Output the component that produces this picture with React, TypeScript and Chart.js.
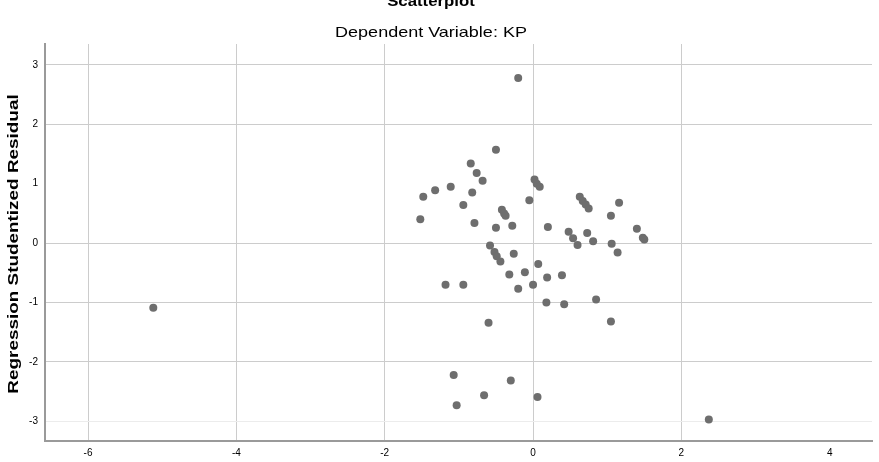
import React, { useEffect, useRef } from "react";
import { Chart, registerables } from "chart.js";

Chart.register(...registerables);

const chartTitle = "Scatterplot";
const chartSubtitle = "Dependent Variable: KP";
const xAxisTitle = "";
const yAxisTitle = "Regression Studentized Residual";

const xTicks = [-6, -4, -2, 0, 2, 4];
const yTicks = [-3, -2, -1, 0, 1, 2, 3];
const xGridHidden = [4];
const yGridHidden = [1];
const yGridFaint = [-3];

// Regression Standardized Predicted Value (x) vs Studentized Residual (y)
const predictedValues = [
  -0.2, -0.5, -0.84, -0.76, -0.68, 0.02, 0.05, 0.09, -1.11, -1.32,
  -1.48, -0.82, -0.05, -0.94, -0.42, -0.39, -0.37, -1.52, -0.79, -0.5,
  -0.28, 0.2, 0.63, 0.67, 0.71, 0.75, 1.16, 1.05, 1.4, 1.48,
  1.5, 0.48, 0.54, 0.6, 0.73, 0.81, 1.06, 1.14, 0.07, 0.19,
  0.39, 0.0, -0.58, -0.52, -0.49, -0.44, -0.26, -0.32, -0.11, -1.18,
  -0.94, -0.2, 0.18, 0.42, 0.85, -0.6, 1.05, -1.07, -0.3, -0.66,
  0.06, -1.03, -5.12, 2.37,
];
const studentizedResiduals = [
  2.78, 1.57, 1.34, 1.18, 1.05, 1.07, 1.0, 0.95, 0.95, 0.89,
  0.78, 0.85, 0.72, 0.64, 0.56, 0.5, 0.46, 0.4, 0.34, 0.26,
  0.29, 0.27, 0.78, 0.71, 0.65, 0.58, 0.68, 0.46, 0.24, 0.09,
  0.06, 0.19, 0.08, -0.03, 0.17, 0.03, -0.01, -0.16, -0.35, -0.58,
  -0.54, -0.7, -0.04, -0.15, -0.22, -0.31, -0.18, -0.53, -0.49, -0.7,
  -0.7, -0.77, -1.0, -1.03, -0.95, -1.34, -1.32, -2.22, -2.31, -2.56,
  -2.59, -2.73, -1.09, -2.97,
];

const FONT = "'Liberation Sans', Arial, sans-serif";

export default function App() {
  const canvasRef = useRef<HTMLCanvasElement | null>(null);

  useEffect(() => {
    const canvas = canvasRef.current;
    if (!canvas) return;

    const drawStretched = (ctx: any, text: string, x: number, y: number, sx: number) => {
      ctx.save();
      ctx.translate(x, y);
      ctx.scale(sx, 1);
      ctx.fillText(text, 0, 0);
      ctx.restore();
    };

    const titlePlugin = {
      id: "spssTitles",
      afterDraw(chart: any) {
        const ctx = chart.ctx;
        ctx.save();
        ctx.fillStyle = "#000";
        ctx.textAlign = "center";
        ctx.textBaseline = "alphabetic";
        ctx.font = `bold 15px ${FONT}`;
        drawStretched(ctx, chartTitle, 431, 6, 1.12);
        ctx.font = `15px ${FONT}`;
        drawStretched(ctx, chartSubtitle, 431, 37, 1.2);
        ctx.translate(14, 244);
        ctx.rotate(-Math.PI / 2);
        ctx.textBaseline = "middle";
        ctx.font = `bold 15px ${FONT}`;
        drawStretched(ctx, yAxisTitle, 0, 0, 1.26);
        ctx.restore();
      },
    };

    const chart = new Chart(canvas, {
      type: "scatter",
      data: {
        datasets: [
          {
            data: predictedValues.map((x, i) => ({ x, y: studentizedResiduals[i] })),
            backgroundColor: "#6e6e6e",
            borderWidth: 0,
            pointRadius: 4,
            pointHoverRadius: 4,
          },
        ],
      },
      options: {
        animation: false,
        responsive: false,
        maintainAspectRatio: false,
        layout: { padding: { top: 44, right: 7, left: 0, bottom: 0 } },
        plugins: {
          legend: { display: false },
          tooltip: { enabled: false },
          title: { display: false },
        },
        scales: {
          x: {
            type: "linear",
            min: -6.58,
            max: 4.57,
            afterBuildTicks: (scale: any) => {
              scale.ticks = xTicks.map((v) => ({ value: v }));
            },
            afterFit: (scale: any) => {
              scale.height = 21;
            },
            title: { display: xAxisTitle !== "", text: xAxisTitle },
            border: { display: true, color: "#9a9a9a", width: 2 },
            grid: {
              drawTicks: false,
              color: (c: any) =>
                c.tick && xGridHidden.includes(c.tick.value) ? "rgba(0,0,0,0)" : "#cccccc",
              lineWidth: 1,
            },
            ticks: {
              padding: 6,
              color: "#000",
              font: { family: FONT, size: 10 },
              callback: (v: any) => String(v),
            },
          },
          y: {
            type: "linear",
            min: -3.33,
            max: 3.35,
            afterBuildTicks: (scale: any) => {
              scale.ticks = yTicks.map((v) => ({ value: v }));
            },
            afterFit: (scale: any) => {
              scale.width = 45;
            },
            border: { display: true, color: "#9a9a9a", width: 2 },
            grid: {
              drawTicks: false,
              color: (c: any) => {
                if (!c.tick) return "#cccccc";
                if (yGridHidden.includes(c.tick.value)) return "rgba(0,0,0,0)";
                if (yGridFaint.includes(c.tick.value)) return "#ececec";
                return "#cccccc";
              },
              lineWidth: 1,
            },
            ticks: {
              padding: 7,
              color: "#000",
              font: { family: FONT, size: 10 },
              callback: (v: any) => String(v),
            },
          },
        },
      },
      plugins: [titlePlugin],
    });

    return () => {
      chart.destroy();
    };
  }, []);

  return (
    <div style={{ position: "fixed", left: 0, top: 0, width: 879, height: 462, background: "#fff" }}>
      <canvas ref={canvasRef} width={879} height={462} style={{ width: 879, height: 462, display: "block" }} />
    </div>
  );
}
